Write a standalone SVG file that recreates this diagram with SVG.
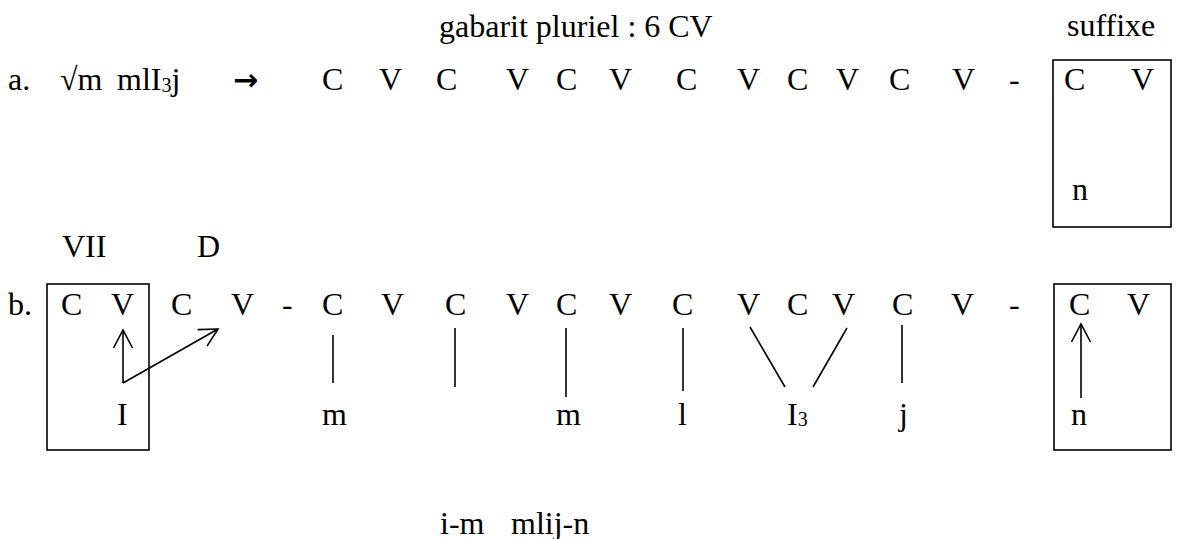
<svg xmlns="http://www.w3.org/2000/svg" width="1181" height="539" viewBox="0 0 1181 539">
<style>
text{font-family:"Liberation Serif","Times New Roman",serif;font-size:32px;fill:#000}
.sub{font-size:20px}
.arr{font-family:"DejaVu Sans",sans-serif;font-size:30px;font-weight:bold}
.ln{stroke:#000;stroke-width:1.6;fill:none}
.box{stroke:#000;stroke-width:1.6;fill:none}
</style>
<defs>
<marker id="head" markerUnits="userSpaceOnUse" viewBox="-21 -12 24 24" refX="0" refY="0" markerWidth="24" markerHeight="24" orient="auto" overflow="visible">
<path d="M-18,-9.5 L0,0 L-18,9.5" fill="none" stroke="#000" stroke-width="1.6"/>
</marker>
</defs>
<rect width="1181" height="539" fill="#fff"/>
<g id="header">
<text x="439" y="37">gabarit pluriel : 6 CV</text>
<text x="1067" y="36">suffixe</text>
</g>
<g id="row-a">
<text x="8" y="90">a.</text>
<text x="60" y="90">√m</text>
<text x="117" y="90">mlI<tspan class="sub" dy="2">3</tspan><tspan dy="-2">j</tspan></text>
<text class="arr" x="233" y="90">→</text>
<text x="322" y="90">C</text>
<text x="379" y="90">V</text>
<text x="436" y="90">C</text>
<text x="506" y="90">V</text>
<text x="556" y="90">C</text>
<text x="609" y="90">V</text>
<text x="676" y="90">C</text>
<text x="737" y="90">V</text>
<text x="787" y="90">C</text>
<text x="836" y="90">V</text>
<text x="889" y="90">C</text>
<text x="952" y="90">V</text>
<text x="1009" y="90">-</text>
</g>
<g id="suffix-a">
<rect class="box" x="1053" y="60" width="118" height="167"/>
<text x="1064" y="90">C</text>
<text x="1131" y="90">V</text>
<text x="1072" y="200">n</text>
</g>
<g id="labels-b">
<text x="62" y="257">VII</text>
<text x="197" y="257">D</text>
</g>
<g id="row-b">
<text x="8" y="315">b.</text>
<text x="171" y="315">C</text>
<text x="231" y="315">V</text>
<text x="282" y="315">-</text>
<text x="322" y="315">C</text>
<text x="381" y="315">V</text>
<text x="445" y="315">C</text>
<text x="506" y="315">V</text>
<text x="556" y="315">C</text>
<text x="609" y="315">V</text>
<text x="672" y="315">C</text>
<text x="737" y="315">V</text>
<text x="787" y="315">C</text>
<text x="832" y="315">V</text>
<text x="892" y="315">C</text>
<text x="951" y="315">V</text>
<text x="1009" y="315">-</text>
<text x="322" y="425">m</text>
<text x="556" y="425">m</text>
<text x="678" y="425">l</text>
<text x="787" y="425">I<tspan class="sub" dy="1">3</tspan></text>
<text x="899" y="425">j</text>
</g>
<g id="prefix-b">
<rect class="box" x="47" y="284" width="102" height="166"/>
<text x="61" y="315">C</text>
<text x="111" y="315">V</text>
<text x="117" y="425">I</text>
</g>
<g id="suffix-b">
<rect class="box" x="1054" y="284" width="117" height="166"/>
<text x="1069" y="315">C</text>
<text x="1127" y="315">V</text>
<text x="1071" y="425">n</text>
</g>
<g id="connectors">
<line class="ln" x1="123" y1="383" x2="123" y2="330" marker-end="url(#head)"/>
<line class="ln" x1="123" y1="383" x2="218" y2="329" marker-end="url(#head)"/>
<line class="ln" x1="333" y1="335" x2="333" y2="383"/>
<line class="ln" x1="455" y1="328" x2="455" y2="387"/>
<line class="ln" x1="566" y1="328" x2="566" y2="397"/>
<line class="ln" x1="683" y1="328" x2="683" y2="391"/>
<line class="ln" x1="750" y1="327" x2="785" y2="387"/>
<line class="ln" x1="847" y1="328" x2="813" y2="387"/>
<line class="ln" x1="902" y1="325" x2="902" y2="383"/>
<line class="ln" x1="1081" y1="398" x2="1081" y2="324" marker-end="url(#head)"/>
</g>
<g id="result">
<text x="440" y="534">i-m</text>
<text x="511" y="534">mlij-n</text>
</g>
</svg>
